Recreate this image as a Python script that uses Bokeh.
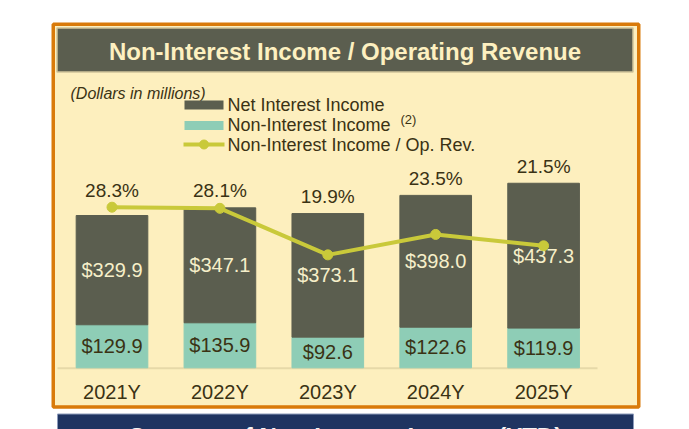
from bokeh.plotting import figure
from bokeh.models import ColumnDataSource, Range1d
from bokeh.core.properties import value
from bokeh.embed import file_html
from bokeh.resources import INLINE

# data (dollars in millions)
years = ["2021Y", "2022Y", "2023Y", "2024Y", "2025Y"]
net_interest = [329.9, 347.1, 373.1, 398.0, 437.3]
non_interest = [129.9, 135.9, 92.6, 122.6, 119.9]
ratio_pct = [28.3, 28.1, 19.9, 23.5, 21.5]

FONT = value("Liberation Sans")
GRAY = "#5b5e4f"
TEAL = "#8ecdb6"
LIME = "#c9c93a"
DARK = "#3a3214"
CREAM = "#f6efc9"
PANEL = "#fdefbe"
ORANGE = "#d97a0a"
NAVY = "#1f3461"

# layout: the frame fills the whole canvas, default ranges are page pixels
W, H = 689, 429
BASE_Y = 367.3      # pixel row of the zero line
X0, DX = 111.5, 107.9   # first bar centre and bar spacing in pixels
PX_USD = 0.3312     # pixels per $ million
PX_PCT = 5.675      # pixels per percent point

p = figure(width=W, height=H, output_backend="svg", toolbar_location=None,
           x_range=Range1d(0, W), y_range=Range1d(H, 0),
           x_axis_location=None, y_axis_location=None, min_border=0)
p.grid.visible = False
p.outline_line_color = None
p.background_fill_color = "white"
p.border_fill_color = "white"

p.extra_x_ranges = {"idx": Range1d(-X0 / DX, (W - X0) / DX)}
p.extra_y_ranges = {
    "usd": Range1d((BASE_Y - H) / PX_USD, BASE_Y / PX_USD),
    "pct": Range1d((BASE_Y - H) / PX_PCT, BASE_Y / PX_PCT),
}

# panel frame, title bar, next panel header
p.quad(left=[52.75], right=[638.25], top=[23.75], bottom=[406.5],
       fill_color=PANEL, line_color=ORANGE, line_width=3.5)
p.quad(left=[56.5], right=[632.5], top=[27.5], bottom=[71.5],
       fill_color=GRAY, line_color="#cfc49a", line_width=1.5)
p.text(x=[344.5], y=[50.5], text=["Non-Interest Income / Operating Revenue"],
       text_font=FONT, text_font_style="bold", text_font_size="24px",
       text_color="#fdf0c0", text_align="center", text_baseline="middle")
p.quad(left=[57], right=[633], top=[413.5], bottom=[460],
       fill_color=NAVY, line_color="#8d9bbb", line_width=1)
p.text(x=[345], y=[436], text=["Sources of Non-Interest Income (YTD)"],
       text_font=FONT, text_font_style="bold", text_font_size="24px",
       text_color="#f4f4f4", text_align="center", text_baseline="middle")

p.text(x=[70], y=[93], text=["(Dollars in millions)"], text_font=FONT,
       text_font_style="italic", text_font_size="16px", text_color=DARK,
       text_baseline="middle")

# legend
p.quad(left=[184, 184], right=[223, 223], top=[100, 120.5], bottom=[109, 129.5],
       fill_color=[GRAY, TEAL], line_color=None)
p.line(x=[183, 224], y=[144, 144], line_color=LIME, line_width=4)
p.scatter(x=[203.5], y=[144], size=9, fill_color=LIME, line_color=LIME)
p.text(x=[227, 227, 227], y=[104, 124, 144],
       text=["Net Interest Income", "Non-Interest Income", "Non-Interest Income / Op. Rev."],
       text_font=FONT, text_font_size="18px", text_color=DARK, text_baseline="middle")
p.text(x=[400], y=[119], text=["(2)"], text_font=FONT, text_font_size="13px",
       text_color=DARK, text_baseline="middle")

# zero line
p.line(x=[57, 597], y=[BASE_Y + 0.5, BASE_Y + 0.5], line_color="#e6d9a8", line_width=2)

idx = list(range(len(years)))
totals = [a + b for a, b in zip(net_interest, non_interest)]
src = ColumnDataSource(dict(
    i=idx, year=years, nii=net_interest, noni=non_interest, pct=ratio_pct,
    total=totals,
    nii_mid=[b + a / 2 for a, b in zip(net_interest, non_interest)],
    noni_mid=[b / 2 for b in non_interest],
    nii_lbl=["$%.1f" % v for v in net_interest],
    noni_lbl=["$%.1f" % v for v in non_interest],
    pct_lbl=["%.1f%%" % v for v in ratio_pct],
    # percent label sits above whichever is higher: bar top or line point
    pct_lbl_y=[max(t, v * PX_PCT / PX_USD) for t, v in zip(totals, ratio_pct)],
))

p.vbar_stack(["noni", "nii"], x="i", width=0.664, color=[TEAL, GRAY],
             source=src, x_range_name="idx", y_range_name="usd")

p.text(x="i", y="nii_mid", text="nii_lbl", source=src, x_range_name="idx",
       y_range_name="usd", text_font=FONT, text_font_size="20px",
       text_color=CREAM, text_align="center", text_baseline="middle")
p.text(x="i", y="noni_mid", text="noni_lbl", source=src, x_range_name="idx",
       y_range_name="usd", text_font=FONT, text_font_size="20px",
       text_color=DARK, text_align="center", text_baseline="middle")

p.line(x="i", y="pct", source=src, x_range_name="idx", y_range_name="pct",
       line_color=LIME, line_width=4)
p.scatter(x="i", y="pct", source=src, x_range_name="idx", y_range_name="pct",
          size=10, fill_color=LIME, line_color=LIME)

p.text(x="i", y="pct_lbl_y", text="pct_lbl", source=src, x_range_name="idx",
       y_range_name="usd", y_offset=-17, text_font=FONT, text_font_size="19px",
       text_color=DARK, text_align="center", text_baseline="middle")

# category labels
p.text(x="i", y=391, text="year", source=src, x_range_name="idx",
       text_font=FONT, text_font_size="20px", text_color=DARK,
       text_align="center", text_baseline="middle")

open("out.html", "w").write(file_html(p, INLINE))
